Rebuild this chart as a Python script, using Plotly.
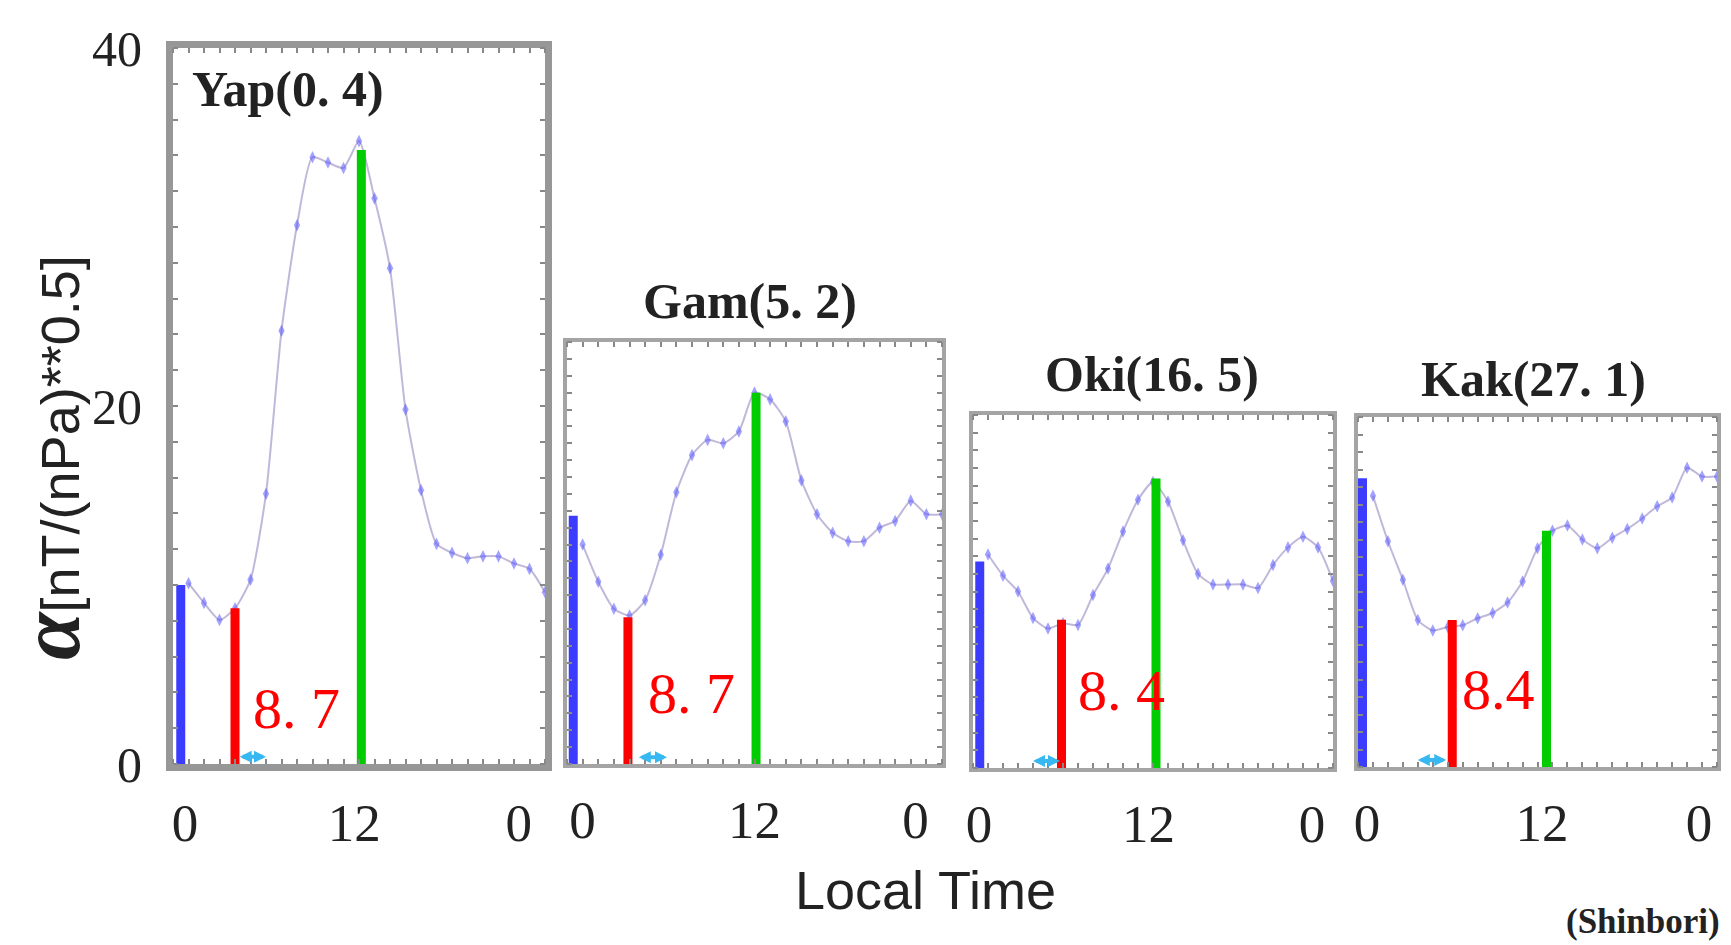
import plotly.graph_objects as go

# ---------------- data ----------------
hours = list(range(1, 25))
stations = ["Yap(0. 4)", "Gam(5. 2)", "Oki(16. 5)", "Kak(27. 1)"]
yap = [10.1, 9.0, 8.05, 8.7, 10.3, 15.1, 24.2, 30.1, 33.9, 33.6, 33.3, 34.8,
       31.6, 27.7, 19.8, 15.3, 12.3, 11.8, 11.5, 11.6, 11.6, 11.2, 10.9, 9.6]
gam = [13.0, 10.8, 9.2, 8.8, 9.7, 12.4, 16.1, 18.3, 19.2, 19.0, 19.7, 22.0,
       21.6, 20.3, 16.8, 14.8, 13.7, 13.2, 13.2, 14.0, 14.4, 15.6, 14.8, 14.8]
oki = [12.1, 10.9, 10.0, 8.5, 7.9, 8.2, 8.1, 9.8, 11.3, 13.4, 15.2, 16.2,
       15.1, 12.9, 11.0, 10.4, 10.4, 10.4, 10.2, 11.5, 12.5, 13.1, 12.5, 10.6]
kak = [15.5, 12.9, 10.7, 8.4, 7.8, 8.0, 8.1, 8.5, 8.8, 9.4, 10.6, 12.5,
       13.5, 13.8, 13.0, 12.5, 13.1, 13.6, 14.2, 14.9, 15.4, 17.1, 16.6, 16.6]
series = [yap, gam, oki, kak]

blue_x = [0.5, 0.4, 0.45, 0.3]
blue_top = [10.0, 14.7, 11.7, 16.5]
red_x = [4.0, 3.9, 5.9, 6.3]
red_top = [8.7, 8.7, 8.4, 8.4]
red_text = ["8. 7", "8. 7", "8. 4", "8.4"]
green_x = [12.15, 12.1, 12.2, 12.6]
green_top = [34.3, 22.0, 16.4, 13.5]
arrow_start = [4.2, 4.5, 3.9, 3.9]
arrow_end = [6.0, 6.4, 5.8, 5.9]
y_max = [40, 25, 20, 20]
x_tick_labels = ["0", "12", "0"]
y_tick_vals = [0, 20, 40]

# ---------------- layout geometry (pixels) ----------------
W, H = 1731, 945
def px(x): return x / W
def py(y): return 1 - y / H

frames = [  # left, right, top, bottom  (pixels)
    (173, 545, 48, 764),
    (567, 942, 342, 764),
    (973, 1333, 415, 768),
    (1358, 1717, 417, 767),
]
tick_pos = [[0.77, 11.7, 22.3], [1.0, 12.0, 22.3], [0.4, 11.7, 22.6], [0.6, 12.3, 22.8]]
title_pos = [(190, 89, "left"), (750, 301, "center"), (1152, 374, "center"), (1533, 379, "center")]
label_pos = [(251, 708), (646, 693), (1076, 690), (1460, 689)]

SERIF = "Liberation Serif, Times New Roman, serif"
SANS = "Liberation Sans, Arial, sans-serif"

fig = go.Figure()
layout = dict(width=W, height=H, template="none",
              margin=dict(l=0, r=0, t=0, b=0, pad=0, autoexpand=False),
              paper_bgcolor="white", plot_bgcolor="white", showlegend=False)
annotations = []

for i in range(4):
    n = "" if i == 0 else str(i + 1)
    xa, ya = "x" + n, "y" + n
    l, r, t, b = frames[i]
    lw = 7 if i == 0 else 4
    lc = "#979797" if i == 0 else "#a4a4a4"
    layout["xaxis" + n] = dict(
        domain=[px(l), px(r)], range=[0, 24], anchor=ya, automargin=False,
        tickmode="array", tickvals=tick_pos[i], ticktext=x_tick_labels,
        ticks="", showline=True, linecolor=lc, linewidth=lw, mirror="allticks",
        minor=dict(ticks="inside", dtick=1, tick0=0, ticklen=5, tickcolor="#888", tickwidth=1.5),
        showgrid=False, zeroline=False, ticklabelstandoff=6,
        tickfont=dict(family=SERIF, size=53, color="#222"),
    )
    layout["yaxis" + n] = dict(
        domain=[py(b), py(t)], range=[0, y_max[i]], anchor=xa, automargin=False,
        ticks="", showline=True, linecolor=lc, linewidth=lw, mirror="allticks",
        minor=dict(ticks="inside", dtick=1 if i else 2, tick0=0, ticklen=5,
                   tickcolor="#888", tickwidth=1.5),
        showgrid=False, zeroline=False,
        showticklabels=(i == 0),
        tickmode="array", tickvals=y_tick_vals, ticktext=[str(v) for v in y_tick_vals],
        ticklabelstandoff=14,
        tickfont=dict(family=SERIF, size=50, color="#222"),
    )

    # data curve
    fig.add_trace(go.Scatter(
        x=hours, y=series[i], xaxis=xa, yaxis=ya, mode="lines+markers",
        line=dict(color="rgba(190,180,215,0.95)", width=2, shape="spline", smoothing=0.6),
        marker=dict(symbol="diamond-tall", size=9, color="rgba(85,85,255,0.55)",
                    line=dict(width=0)),
        hoverinfo="skip"))
    # vertical bars
    for vx, vt, col in ((blue_x[i], blue_top[i], "#3c3cff"),
                        (red_x[i], red_top[i], "#ff0000"),
                        (green_x[i], green_top[i], "#00cc00")):
        fig.add_trace(go.Scatter(x=[vx, vx], y=[0, vt], xaxis=xa, yaxis=ya, mode="lines",
                                 line=dict(color=col, width=9), hoverinfo="skip"))

    # cyan double arrow near the bottom
    annotations.append(dict(
        x=arrow_end[i], y=0.4, ax=arrow_start[i], ay=0.4,
        xref=xa, yref=ya, axref=xa, ayref=ya, text="", showarrow=True,
        arrowhead=2, startarrowhead=2, arrowside="end+start", arrowsize=0.6,
        startarrowsize=0.6, arrowwidth=4, arrowcolor="#38b8f0",
        standoff=0, startstandoff=0))

    # station title
    tx, ty, anc = title_pos[i]
    annotations.append(dict(x=px(tx), y=py(ty), xref="paper", yref="paper",
                            text="<b>" + stations[i] + "</b>", showarrow=False,
                            xanchor=anc, yanchor="middle",
                            font=dict(family=SERIF, size=50, color="#222")))
    # red value label
    lx, ly = label_pos[i]
    annotations.append(dict(x=px(lx), y=py(ly), xref="paper", yref="paper",
                            text=red_text[i], showarrow=False,
                            xanchor="left", yanchor="middle",
                            font=dict(family=SERIF, size=58, color="#ff0000")))

# axis titles and credit
annotations.append(dict(
    x=px(50), y=py(458), xref="paper", yref="paper", showarrow=False, textangle=-90,
    xanchor="center", yanchor="middle",
    text="<span style='font-family:Liberation Serif;font-size:86px'><b><i>α</i></b></span>"
         "[nT/(nPa)**0.5]",
    font=dict(family=SANS, size=54, color="#222")))
annotations.append(dict(x=px(926), y=py(890), xref="paper", yref="paper", showarrow=False,
                        text="Local Time", xanchor="center", yanchor="middle",
                        font=dict(family=SANS, size=54, color="#222")))
annotations.append(dict(x=px(1722), y=py(921), xref="paper", yref="paper", showarrow=False,
                        text="<b>(Shinbori)</b>", xanchor="right", yanchor="middle",
                        font=dict(family=SERIF, size=35, color="#222")))

layout["annotations"] = annotations
fig.update_layout(**layout)
fig.write_html("out.html")
